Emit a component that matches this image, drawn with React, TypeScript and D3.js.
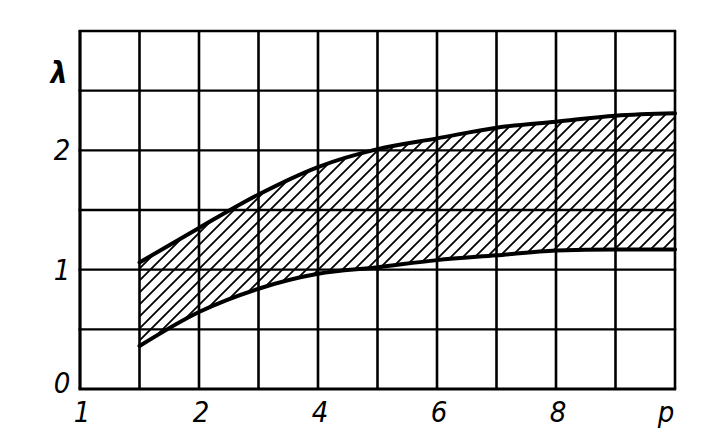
import React from "react";
import * as d3 from "d3";

const pValues = [1, 2, 3, 4, 5, 6, 7, 8, 9, 10];
const upperLambda = [1.06, 1.35, 1.63, 1.86, 2.01, 2.1, 2.19, 2.24, 2.29, 2.31];
const lowerLambda = [0.36, 0.645, 0.84, 0.965, 1.02, 1.08, 1.12, 1.16, 1.17, 1.17];
const xTickValues = [0, 2, 4, 6, 8, 10];
const xTickLabels = ["1", "2", "4", "6", "8", "p"];
const yTickValues = [0, 1, 2];
const yTickLabels = ["0", "1", "2"];
const xGridValues = [0, 1, 2, 3, 4, 5, 6, 7, 8, 9, 10];
const yGridValues = [0, 0.5, 1, 1.5, 2, 2.5, 3];

export default function App() {
  const W = 724;
  const H = 431;
  const x = d3.scaleLinear().domain([0, 10]).range([80, 675]);
  const y = d3.scaleLinear().domain([0, 3]).range([389, 31]);

  const pts = pValues.map((p, i) => ({ p, u: upperLambda[i], l: lowerLambda[i] }));
  const area = d3
    .area<{ p: number; u: number; l: number }>()
    .x((d) => x(d.p))
    .y0((d) => y(d.l))
    .y1((d) => y(d.u))
    .curve(d3.curveMonotoneX);
  const upperLine = d3
    .line<{ p: number; u: number; l: number }>()
    .x((d) => x(d.p))
    .y((d) => y(d.u))
    .curve(d3.curveMonotoneX);
  const lowerLine = d3
    .line<{ p: number; u: number; l: number }>()
    .x((d) => x(d.p))
    .y((d) => y(d.l))
    .curve(d3.curveMonotoneX);

  const hw = 12;
  const font = "'DejaVu Sans Condensed', 'Liberation Sans Narrow', 'DejaVu Sans', sans-serif";

  return (
    <svg
      width={W}
      height={H}
      viewBox={`0 0 ${W} ${H}`}
      style={{ position: "absolute", left: 0, top: 0, background: "#fff" }}
    >
      <defs>
        <pattern id="hatch" patternUnits="userSpaceOnUse" width={hw} height={hw}>
          <path
            d={`M0,${hw} L${hw},0 M-2,2 L2,-2 M${hw - 2},${hw + 2} L${hw + 2},${hw - 2}`}
            stroke="#000"
            strokeWidth={1.8}
          />
        </pattern>
      </defs>
      <rect width={W} height={H} fill="#fff" />
      <path d={area(pts) || ""} fill="url(#hatch)" />
      {xGridValues.map((v) => (
        <line
          key={"xg" + v}
          x1={x(v)}
          x2={x(v)}
          y1={y(0)}
          y2={y(3)}
          stroke="#000"
          strokeWidth={v === 0 ? 3.2 : 2.6}
        />
      ))}
      {yGridValues.map((v) => (
        <line
          key={"yg" + v}
          x1={x(0) - 1.5}
          x2={x(10) + 1.2}
          y1={y(v)}
          y2={y(v)}
          stroke="#000"
          strokeWidth={v === 0 ? 3.2 : 2.4}
        />
      ))}
      <path d={upperLine(pts) || ""} fill="none" stroke="#000" strokeWidth={4} strokeLinecap="round" />
      <path d={lowerLine(pts) || ""} fill="none" stroke="#000" strokeWidth={4} strokeLinecap="round" />
      {yTickValues.map((v, i) => (
        <text
          key={"yt" + v}
          x={62}
          y={y(v) - (v === 0 ? 6 : 0)}
          textAnchor="middle"
          dominantBaseline="central"
          fontFamily={font}
          fontStyle="italic"
          fontSize={29}
          fill="#000"
        >
          {yTickLabels[i]}
        </text>
      ))}
      {xTickValues.map((v, i) => (
        <text
          key={"xt" + v}
          x={x(v) + (i === 5 ? -9 : 2)}
          y={412}
          textAnchor="middle"
          dominantBaseline="central"
          fontFamily={font}
          fontStyle="italic"
          fontSize={29}
          fill="#000"
        >
          {xTickLabels[i]}
        </text>
      ))}
      <text
        x={59}
        y={72}
        textAnchor="middle"
        dominantBaseline="central"
        fontFamily={font}
        fontStyle="italic"
        fontWeight="bold"
        fontSize={30}
        fill="#000"
      >
        λ
      </text>
    </svg>
  );
}
